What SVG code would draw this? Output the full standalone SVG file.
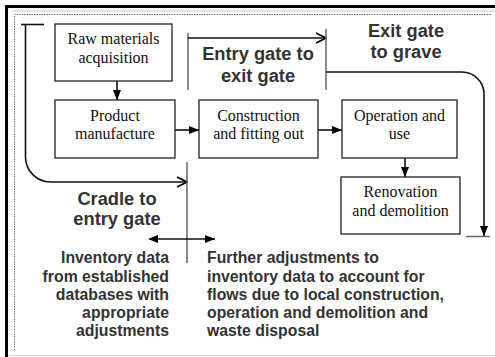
<svg xmlns="http://www.w3.org/2000/svg" width="495" height="357" viewBox="0 0 495 357">
<style>
.box{fill:#fff;stroke:#222;stroke-width:1.3}
.t{font-family:"Liberation Serif","Times New Roman",serif;font-size:16px;fill:#111;text-anchor:middle}
.h{font-family:"Liberation Sans",Arial,sans-serif;font-size:18.3px;font-weight:bold;fill:#333;text-anchor:middle}
.p{font-family:"Liberation Sans",Arial,sans-serif;font-size:15.8px;font-weight:bold;fill:#333}
.ln{fill:none;stroke:#111;stroke-width:1.6}
.gl{fill:none;stroke:#666;stroke-width:1.5}
</style>
<defs>
<marker id="fa" markerWidth="10" markerHeight="8" refX="10" refY="4" orient="auto" markerUnits="userSpaceOnUse">
<path d="M0,0 L10,4 L0,8 Z" fill="#000"/>
</marker>
<marker id="oa" markerWidth="12" markerHeight="12" refX="11" refY="6" orient="auto" markerUnits="userSpaceOnUse">
<path d="M1,1 L11,6 L1,11" fill="none" stroke="#000" stroke-width="1.6"/>
</marker>
<marker id="fs" markerWidth="10" markerHeight="8" refX="0" refY="4" orient="auto-start-reverse" markerUnits="userSpaceOnUse">
<path d="M0,0 L10,4 L0,8 Z" fill="#000"/>
</marker>
</defs>
<rect x="0" y="0" width="495" height="357" fill="#fff"/>
<g id="frame">
<rect x="6.5" y="6.5" width="500" height="360" fill="none" stroke="#000" stroke-width="3"/>
<path d="M12,11 H495" stroke="#bbb" stroke-width="0.8" fill="none"/>
<path d="M14.5,350 V14.5 H492" stroke="#777" stroke-width="1" stroke-dasharray="1.5,1" fill="none"/>
<path d="M10,355.5 H495" stroke="#ddd" stroke-width="1" fill="none"/>
</g>
<g id="connectors">
<path class="ln" d="M117,81 V100" marker-end="url(#fa)"/>
<path class="ln" d="M175,130 H199" marker-end="url(#fa)"/>
<path class="ln" d="M318,130 H342" marker-end="url(#fa)"/>
<path class="ln" d="M405,158 V177" marker-end="url(#fa)"/>
<path class="ln" d="M21,24.5 H44"/>
<path class="ln" d="M25.5,24.5 V157 A25,25 0 0 0 50.5,182 H187" marker-end="url(#oa)"/>
<path class="gl" d="M187,162 V263"/>
<path class="gl" d="M188,33 V90"/>
<path class="ln" d="M188,38 H326" marker-end="url(#oa)"/>
<path class="gl" d="M326,29 V90"/>
<path class="ln" d="M326,72 H462 A22,22 0 0 1 484,94 V236" marker-end="url(#fa)"/>
<path class="gl" d="M466,236.5 H490"/>
<path class="ln" d="M158,239 H215" marker-start="url(#fs)" marker-end="url(#fa)"/>
</g>
<g id="raw">
<rect class="box" x="55" y="24" width="117" height="57"/>
<text class="t" x="113.5" y="44">Raw materials</text>
<text class="t" x="113.5" y="63">acquisition</text>
</g>
<g id="product">
<rect class="box" x="55" y="100" width="120" height="58"/>
<text class="t" x="115" y="121">Product</text>
<text class="t" x="115" y="139">manufacture</text>
</g>
<g id="construction">
<rect class="box" x="199" y="100" width="119" height="58"/>
<text class="t" x="258.5" y="121">Construction</text>
<text class="t" x="258.5" y="139">and fitting out</text>
</g>
<g id="operation">
<rect class="box" x="342" y="100" width="115" height="58"/>
<text class="t" x="399.5" y="121">Operation and</text>
<text class="t" x="399.5" y="139">use</text>
</g>
<g id="renovation">
<rect class="box" x="341" y="177" width="119" height="57"/>
<text class="t" x="400.5" y="197">Renovation</text>
<text class="t" x="400.5" y="216">and demolition</text>
</g>
<g id="labels">
<text class="h" x="258" y="60">Entry gate to</text>
<text class="h" x="258" y="82">exit gate</text>
<text class="h" x="406" y="37">Exit gate</text>
<text class="h" x="406" y="58">to grave</text>
<text class="h" x="117" y="205">Cradle to</text>
<text class="h" x="117" y="225">entry gate</text>
<text class="p" text-anchor="end" x="169" y="263">Inventory data</text>
<text class="p" text-anchor="end" x="169" y="282">from established</text>
<text class="p" text-anchor="end" x="169" y="300">databases with</text>
<text class="p" text-anchor="end" x="169" y="318">appropriate</text>
<text class="p" text-anchor="end" x="169" y="336">adjustments</text>
<text class="p" x="207" y="263">Further adjustments to</text>
<text class="p" x="207" y="282">inventory data to account for</text>
<text class="p" x="207" y="300">flows due to local construction,</text>
<text class="p" x="207" y="318">operation and demolition and</text>
<text class="p" x="207" y="336">waste disposal</text>
</g>
</svg>
